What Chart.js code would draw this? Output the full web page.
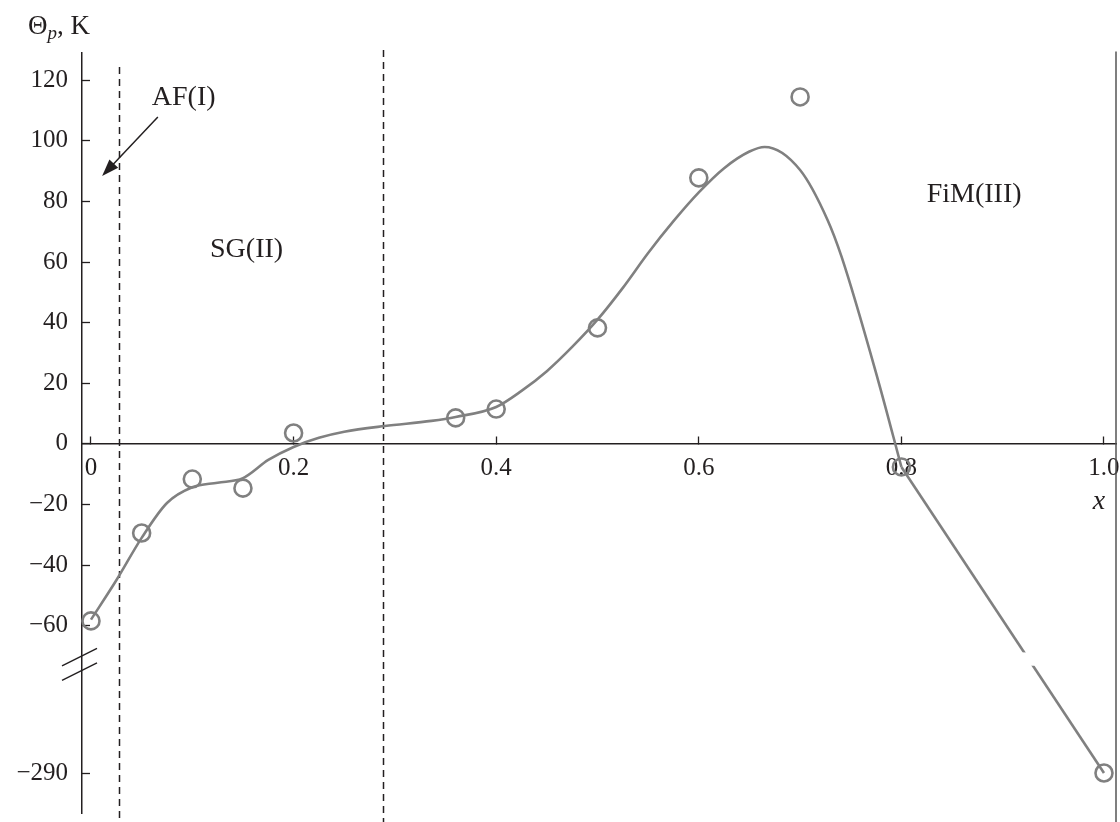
<!DOCTYPE html>
<html>
<head>
<meta charset="utf-8">
<script src="https://cdn.jsdelivr.net/npm/chart.js@4.4.1/dist/chart.umd.min.js"></script>
<style>
    html, body { margin: 0; padding: 0; background: #fff; }
    canvas { display: block; }
</style>
</head>
<body>
<canvas id="thetaChart" width="1120" height="822"></canvas>
<script>
// measured points (open circles)
const xPoints = [0, 0.05, 0.1, 0.15, 0.2, 0.36, 0.4, 0.5, 0.6, 0.7, 0.8, 1.0];
const thetaPoints = [-58.4, -29.4, -11.6, -14.6, 3.6, 8.6, 11.5, 38.3, 87.8, 114.5, -7.6, -290];

// smooth guide curve
const xCurve = [0, 0.025, 0.05, 0.075, 0.1, 0.125, 0.15, 0.175, 0.2, 0.225, 0.25, 0.29, 0.336, 0.36, 0.4,
    0.425, 0.45, 0.475, 0.5, 0.525, 0.55, 0.575, 0.6, 0.625, 0.65, 0.665, 0.7, 0.727, 0.741, 0.777, 0.8];
const thetaCurve = [-58, -45, -31, -19.5, -14.3, -12.8, -11.3, -5.3, -1, 2, 4, 5.9, 7.6, 8.9, 12.2,
    17.5, 24, 32, 41, 51.5, 63, 73.5, 83, 91, 96.5, 98, 90.4, 74, 61.7, 21, -7.6];

// straight tail running through the axis break
const xTail = [0.8, 1.0];
const thetaTail = [-7.6, -290];

const xTicks = [0, 0.2, 0.4, 0.6, 0.8, 1.0];
const yTicks = [120, 100, 80, 60, 40, 20, 0, -20, -40, -60, -290];

// phase boundaries (dashed)
const phaseBounds = [0.0276, 0.288];
const phaseTops = [124.4, 130];

const regionLabels = [
    { text: 'AF(I)', x: 0.060, y: 114.2 },
    { text: 'SG(II)', x: 0.1175, y: 64 },
    { text: 'FiM(III)', x: 0.825, y: 82.2 }
];

const ink = '#231f20';
const curveGray = '#808080';
const serif = "'Liberation Serif', 'Times New Roman', serif";

// y axis is broken below -70: -290 sits where -108.6 would be
function squash(v) {
    if (v >= -70) return v;
    if (v <= -270) return v + 181.4;
    return -70 + (v + 70) * 18.6 / 200;
}
function unsquash(d) {
    if (d >= -70) return d;
    if (d <= -88.6) return d - 181.4;
    return -70 + (d + 70) * 200 / 18.6;
}

class BrokenScale extends Chart.LinearScale {
    getPixelForValue(value) {
        return super.getPixelForValue(value == null ? value : squash(value));
    }
    getValueForPixel(pixel) {
        return unsquash(super.getValueForPixel(pixel));
    }
    pixelForDisplay(d) {
        return super.getPixelForValue(d);
    }
}
BrokenScale.id = 'broken';
BrokenScale.defaults = Chart.LinearScale.defaults;
Chart.register(BrokenScale);

const decor = {
    id: 'decor',
    beforeDatasetsDraw(chart) {
        const { ctx, chartArea, scales: { x, y } } = chart;
        ctx.save();
        // right frame line
        ctx.strokeStyle = '#555';
        ctx.lineWidth = 1.5;
        ctx.beginPath();
        ctx.moveTo(chartArea.right, y.getPixelForValue(129.5));
        ctx.lineTo(chartArea.right, chart.height);
        ctx.stroke();

        ctx.strokeStyle = ink;
        ctx.setLineDash([7, 5]);
        phaseBounds.forEach((b, i) => {
            const px = Math.round(x.getPixelForValue(b)) + 0.5;
            ctx.beginPath();
            ctx.moveTo(px, y.getPixelForValue(phaseTops[i]));
            ctx.lineTo(px, chart.height);
            ctx.stroke();
        });
        ctx.restore();
    },
    afterDatasetsDraw(chart) {
        const { ctx, scales: { x, y } } = chart;
        ctx.save();

        // gap in the tail where the axis is broken
        const g1 = y.pixelForDisplay(-68.8), g2 = y.pixelForDisplay(-73.2);
        ctx.fillStyle = '#fff';
        ctx.fillRect(x.getPixelForValue(0.88), g1, x.getPixelForValue(0.97) - x.getPixelForValue(0.88), g2 - g1);

        // break marks on the y axis
        ctx.strokeStyle = ink;
        ctx.lineWidth = 1.4;
        [-70.3, -75.1].forEach(d => {
            const cy = y.pixelForDisplay(d), cx = y.right - 2;
            ctx.beginPath();
            ctx.moveTo(cx - 18, cy + 9);
            ctx.lineTo(cx + 17, cy - 8.5);
            ctx.stroke();
        });

        // arrow to the AF region
        const ax1 = x.getPixelForValue(0.066), ay1 = y.getPixelForValue(107.9);
        const ax2 = x.getPixelForValue(0.011), ay2 = y.getPixelForValue(88.4);
        const ang = Math.atan2(ay2 - ay1, ax2 - ax1);
        ctx.lineWidth = 1.5;
        ctx.beginPath();
        ctx.moveTo(ax1, ay1);
        ctx.lineTo(ax2 - 10 * Math.cos(ang), ay2 - 10 * Math.sin(ang));
        ctx.stroke();
        ctx.fillStyle = ink;
        ctx.beginPath();
        ctx.moveTo(ax2, ay2);
        ctx.lineTo(ax2 - 17 * Math.cos(ang) + 6 * Math.sin(ang), ay2 - 17 * Math.sin(ang) - 6 * Math.cos(ang));
        ctx.lineTo(ax2 - 17 * Math.cos(ang) - 6 * Math.sin(ang), ay2 - 17 * Math.sin(ang) + 6 * Math.cos(ang));
        ctx.closePath();
        ctx.fill();

        // region labels
        ctx.fillStyle = ink;
        ctx.textBaseline = 'middle';
        ctx.textAlign = 'left';
        ctx.font = '28px ' + serif;
        regionLabels.forEach(l => {
            ctx.fillText(l.text, x.getPixelForValue(l.x), y.getPixelForValue(l.y));
        });

        // axis names
        ctx.textAlign = 'center';
        ctx.font = 'italic 28px ' + serif;
        ctx.fillText('x', x.getPixelForValue(0.995), y.getPixelForValue(-19.1));

        ctx.textAlign = 'left';
        ctx.textBaseline = 'alphabetic';
        let tx = 28;
        ctx.font = '27px ' + serif;
        ctx.fillText('Θ', tx, 34);
        tx += ctx.measureText('Θ').width;
        ctx.font = 'italic 19px ' + serif;
        ctx.fillText('p', tx, 39);
        tx += ctx.measureText('p').width;
        ctx.font = '27px ' + serif;
        ctx.fillText(', K', tx, 34);

        ctx.restore();
    }
};

const axisGrid = { drawOnChartArea: false, drawTicks: true, tickLength: -8, tickColor: ink, tickWidth: 1.3 };

function noPad(s) {
    s.paddingLeft = 0;
    s.paddingRight = 0;
    s.paddingTop = 0;
    s.paddingBottom = 0;
}

new Chart(document.getElementById('thetaChart'), {
    type: 'scatter',
    data: {
        datasets: [
            {
                label: 'points',
                data: xPoints.map((v, i) => ({ x: v, y: thetaPoints[i] })),
                showLine: false,
                pointRadius: 8.5,
                pointBorderWidth: 2.6,
                pointBorderColor: curveGray,
                pointBackgroundColor: 'rgba(0,0,0,0)',
                clip: false
            },
            {
                label: 'curve',
                data: xCurve.map((v, i) => ({ x: v, y: thetaCurve[i] })),
                showLine: true,
                borderColor: curveGray,
                borderWidth: 2.6,
                pointRadius: 0,
                cubicInterpolationMode: 'monotone'
            },
            {
                label: 'tail',
                data: xTail.map((v, i) => ({ x: v, y: thetaTail[i] })),
                showLine: true,
                borderColor: curveGray,
                borderWidth: 2.6,
                pointRadius: 0,
                tension: 0
            }
        ]
    },
    options: {
        responsive: false,
        animation: false,
        devicePixelRatio: 1,
        events: [],
        layout: { autoPadding: false, padding: { top: 53, bottom: 9, left: 0, right: 4 } },
        plugins: {
            legend: { display: false },
            tooltip: { enabled: false }
        },
        scales: {
            x: {
                type: 'linear',
                position: { y: 0 },
                min: -0.00888,
                max: 1.01185,
                afterBuildTicks: s => { s.ticks = xTicks.map(v => ({ value: v })); },
                afterFit: s => { s.height = 0; noPad(s); },
                ticks: {
                    autoSkip: false,
                    maxRotation: 0,
                    padding: 18,
                    color: ink,
                    font: { family: serif, size: 25 },
                    callback: v => v === 0 ? '0' : v.toFixed(1)
                },
                grid: axisGrid,
                border: { color: ink, width: 1.5 }
            },
            y: {
                type: 'broken',
                position: 'left',
                min: -121.8,
                max: 129,
                bounds: 'data',
                afterBuildTicks: s => { s.ticks = yTicks.map(v => ({ value: v })); },
                afterFit: s => { s.width = 82; noPad(s); },
                ticks: {
                    autoSkip: false,
                    padding: 22,
                    color: ink,
                    font: { family: serif, size: 25 },
                    callback: v => v < 0 ? '\u2212' + Math.abs(v) : String(v)
                },
                grid: axisGrid,
                border: { color: ink, width: 1.5 }
            }
        }
    },
    plugins: [decor]
});
</script>
</body>
</html>
